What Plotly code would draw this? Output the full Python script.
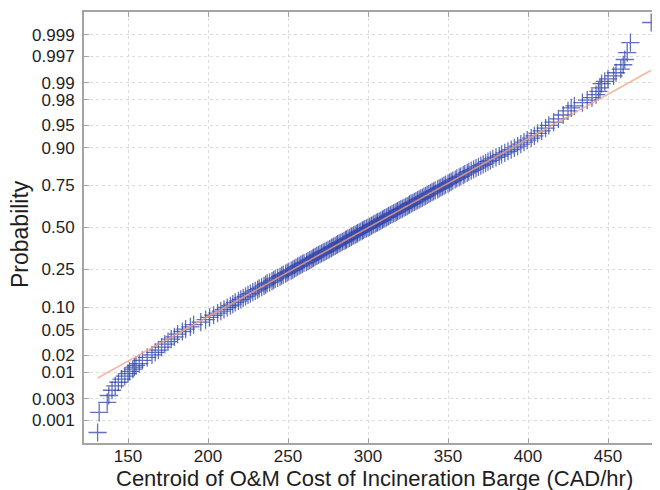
import plotly.graph_objects as go
from statistics import NormalDist

# ---------------- data ----------------
N_SAMPLES = 1000  # sample size of the normal probability plot

# rank of the sorted sample (1 = smallest) and its value (CAD/hr)
ranks_low = [1, 2, 3, 4, 5, 6, 7, 8, 9, 10, 11, 12, 13, 14, 15, 17, 19, 21, 23, 25,
             28, 31, 34, 37, 40, 44, 48, 52, 56, 60, 65, 70, 75, 80, 85, 90, 95, 100,
             105, 110, 115, 120, 125, 130, 135, 140, 145]
cost_low = [131, 132, 137, 138, 140, 142, 144, 146, 148, 150, 151, 153, 154, 155, 157, 159, 162, 165, 167, 169,
            171, 173, 175, 177, 179, 181, 184, 186, 189, 191, 195.5, 198.5, 201, 203.5, 206, 208, 210, 212,
            214, 215.5, 217, 219, 220.5, 222, 223.5, 225, 226.5]

ranks_mid = list(range(150, 851, 5))
cost_mid = [228, 229.5, 231, 232, 233.5, 235, 236, 237, 238.5, 240, 241, 242, 243.5, 245, 246, 247, 248.5, 249.5, 250.5, 252,
            253, 254, 255, 256, 257, 258, 259, 260, 261.5, 262.5, 263.5, 264.5, 265.5, 266, 267, 268, 269, 270, 271, 272,
            273, 274, 275, 276, 277, 277.5, 278.5, 279.5, 280.5, 281, 282, 283, 284, 285, 286, 286.5, 287.5, 288.5, 289.5, 290,
            291, 292, 293, 293.5, 294.5, 295.5, 296.5, 297, 298, 299, 300, 301, 302, 302.5, 303.5, 304.5, 305.5, 306, 307, 308,
            309, 309.5, 310.5, 311.5, 312.5, 313, 314, 315, 316, 317, 318, 318.5, 319.5, 320.5, 321.5, 322.5, 323.5, 324.5, 325.5, 326,
            327, 328, 329, 330, 331, 332, 333, 334, 335, 336, 337, 338, 339, 340, 341, 342, 343.5, 344.5, 345.5, 346.5,
            347.5, 348.5, 350, 351, 352, 353, 354.5, 355.5, 357, 358, 359.5, 360.5, 362, 363, 364.5, 366, 367.5, 369, 370.5, 372,
            373.5]

ranks_high = [855, 860, 865, 870, 875, 880, 885, 890, 895, 900, 905, 910, 915,
              920, 925, 930, 935, 940, 945, 950, 955, 960, 965, 970, 973, 975, 978,
              980, 982, 984, 986, 988, 990, 991, 992, 993, 994, 995, 996, 997, 998,
              999, 1000]
cost_high = [375, 376.5, 378, 380, 382, 383.5, 385.5, 387.5, 389.5, 391.5, 393.5, 395.5, 397.5,
             399.5, 402, 404, 406, 408.5, 411, 413, 416, 419, 422, 425, 427, 429, 434,
             437, 440, 442.5, 444, 445, 446, 448, 450, 453.5, 455, 458, 459.5, 460.5, 462,
             464, 477]

prob_ticks = [0.001, 0.003, 0.01, 0.02, 0.05, 0.10, 0.25, 0.50, 0.75, 0.90,
              0.95, 0.98, 0.99, 0.997, 0.999]
prob_labels = ["0.001", "0.003", "0.01", "0.02", "0.05", "0.10", "0.25", "0.50",
               "0.75", "0.90", "0.95", "0.98", "0.99", "0.997", "0.999"]
x_ticks = [150, 200, 250, 300, 350, 400, 450]

x_title = "Centroid of O&M Cost of Incineration Barge (CAD/hr)"
y_title = "Probability"

ranks = ranks_low + ranks_mid + ranks_high
cost = cost_low + cost_mid + cost_high
assert len(ranks) == len(cost)

# ---------------- probability-paper transform ----------------
nd = NormalDist()
plot_pos = [(r - 0.5) / N_SAMPLES for r in ranks]
zq = [nd.inv_cdf(p) for p in plot_pos]
tick_z = [nd.inv_cdf(p) for p in prob_ticks]

# reference line through the 1st and 3rd quartiles (as normplot does)
lookup = dict(zip(ranks, cost))
q1, q3 = lookup[250], lookup[750]
z1, z3 = nd.inv_cdf(0.25), nd.inv_cdf(0.75)
slope = (z3 - z1) / (q3 - q1)
line_x = [min(cost), max(cost)]
line_z = [z1 + slope * (v - q1) for v in line_x]

FONT = "Liberation Sans, Arial, Helvetica, sans-serif"
MARK = "rgba(45,65,170,0.75)"

fig = go.Figure()
fig.add_trace(go.Scatter(
    x=cost, y=zq, mode="markers",
    marker=dict(symbol="cross-thin", size=13, color=MARK,
                line=dict(width=1.3, color=MARK)),
    hoverinfo="skip", showlegend=False))
fig.add_trace(go.Scatter(
    x=line_x, y=line_z, mode="lines",
    line=dict(color="rgba(245,160,125,0.75)", width=1.6),
    hoverinfo="skip", showlegend=False))

axis_common = dict(
    showline=True, linecolor="#a4a4a4", linewidth=2,
    ticks="inside", ticklen=5, tickcolor="#a4a4a4", tickwidth=1,
    showgrid=True, gridcolor="#dcdcdc", griddash="dot", gridwidth=1,
    zeroline=False,
    tickfont=dict(family=FONT, size=17, color="#1e1e1e"),
)

# the page body has an 8 px margin, so the figure is sized/offset to match
fig.update_layout(
    width=652, height=482, autosize=False,
    margin=dict(l=76, r=0, t=4, b=47),
    paper_bgcolor="white", plot_bgcolor="white",
    font=dict(family=FONT, color="#1e1e1e"),
    xaxis=dict(range=[122.5, 482.5], tickvals=x_ticks, mirror="ticks",
               ticklabelstandoff=-3, **axis_common),
    yaxis=dict(range=[-3.459, 3.459], tickvals=tick_z, ticktext=prob_labels,
               mirror=False, ticklabelstandoff=4, **axis_common),
    annotations=[
        dict(text=x_title, xref="paper", yref="paper", x=0.505, y=0,
             xanchor="center", yanchor="middle", yshift=-35.5, showarrow=False,
             font=dict(family=FONT, size=22, color="#1e1e1e")),
        dict(text=y_title, xref="paper", yref="paper", x=-0.111, y=0.485,
             xanchor="center", yanchor="middle", textangle=-90, showarrow=False,
             font=dict(family=FONT, size=23, color="#1e1e1e")),
    ],
)

fig.write_html("out.html")
